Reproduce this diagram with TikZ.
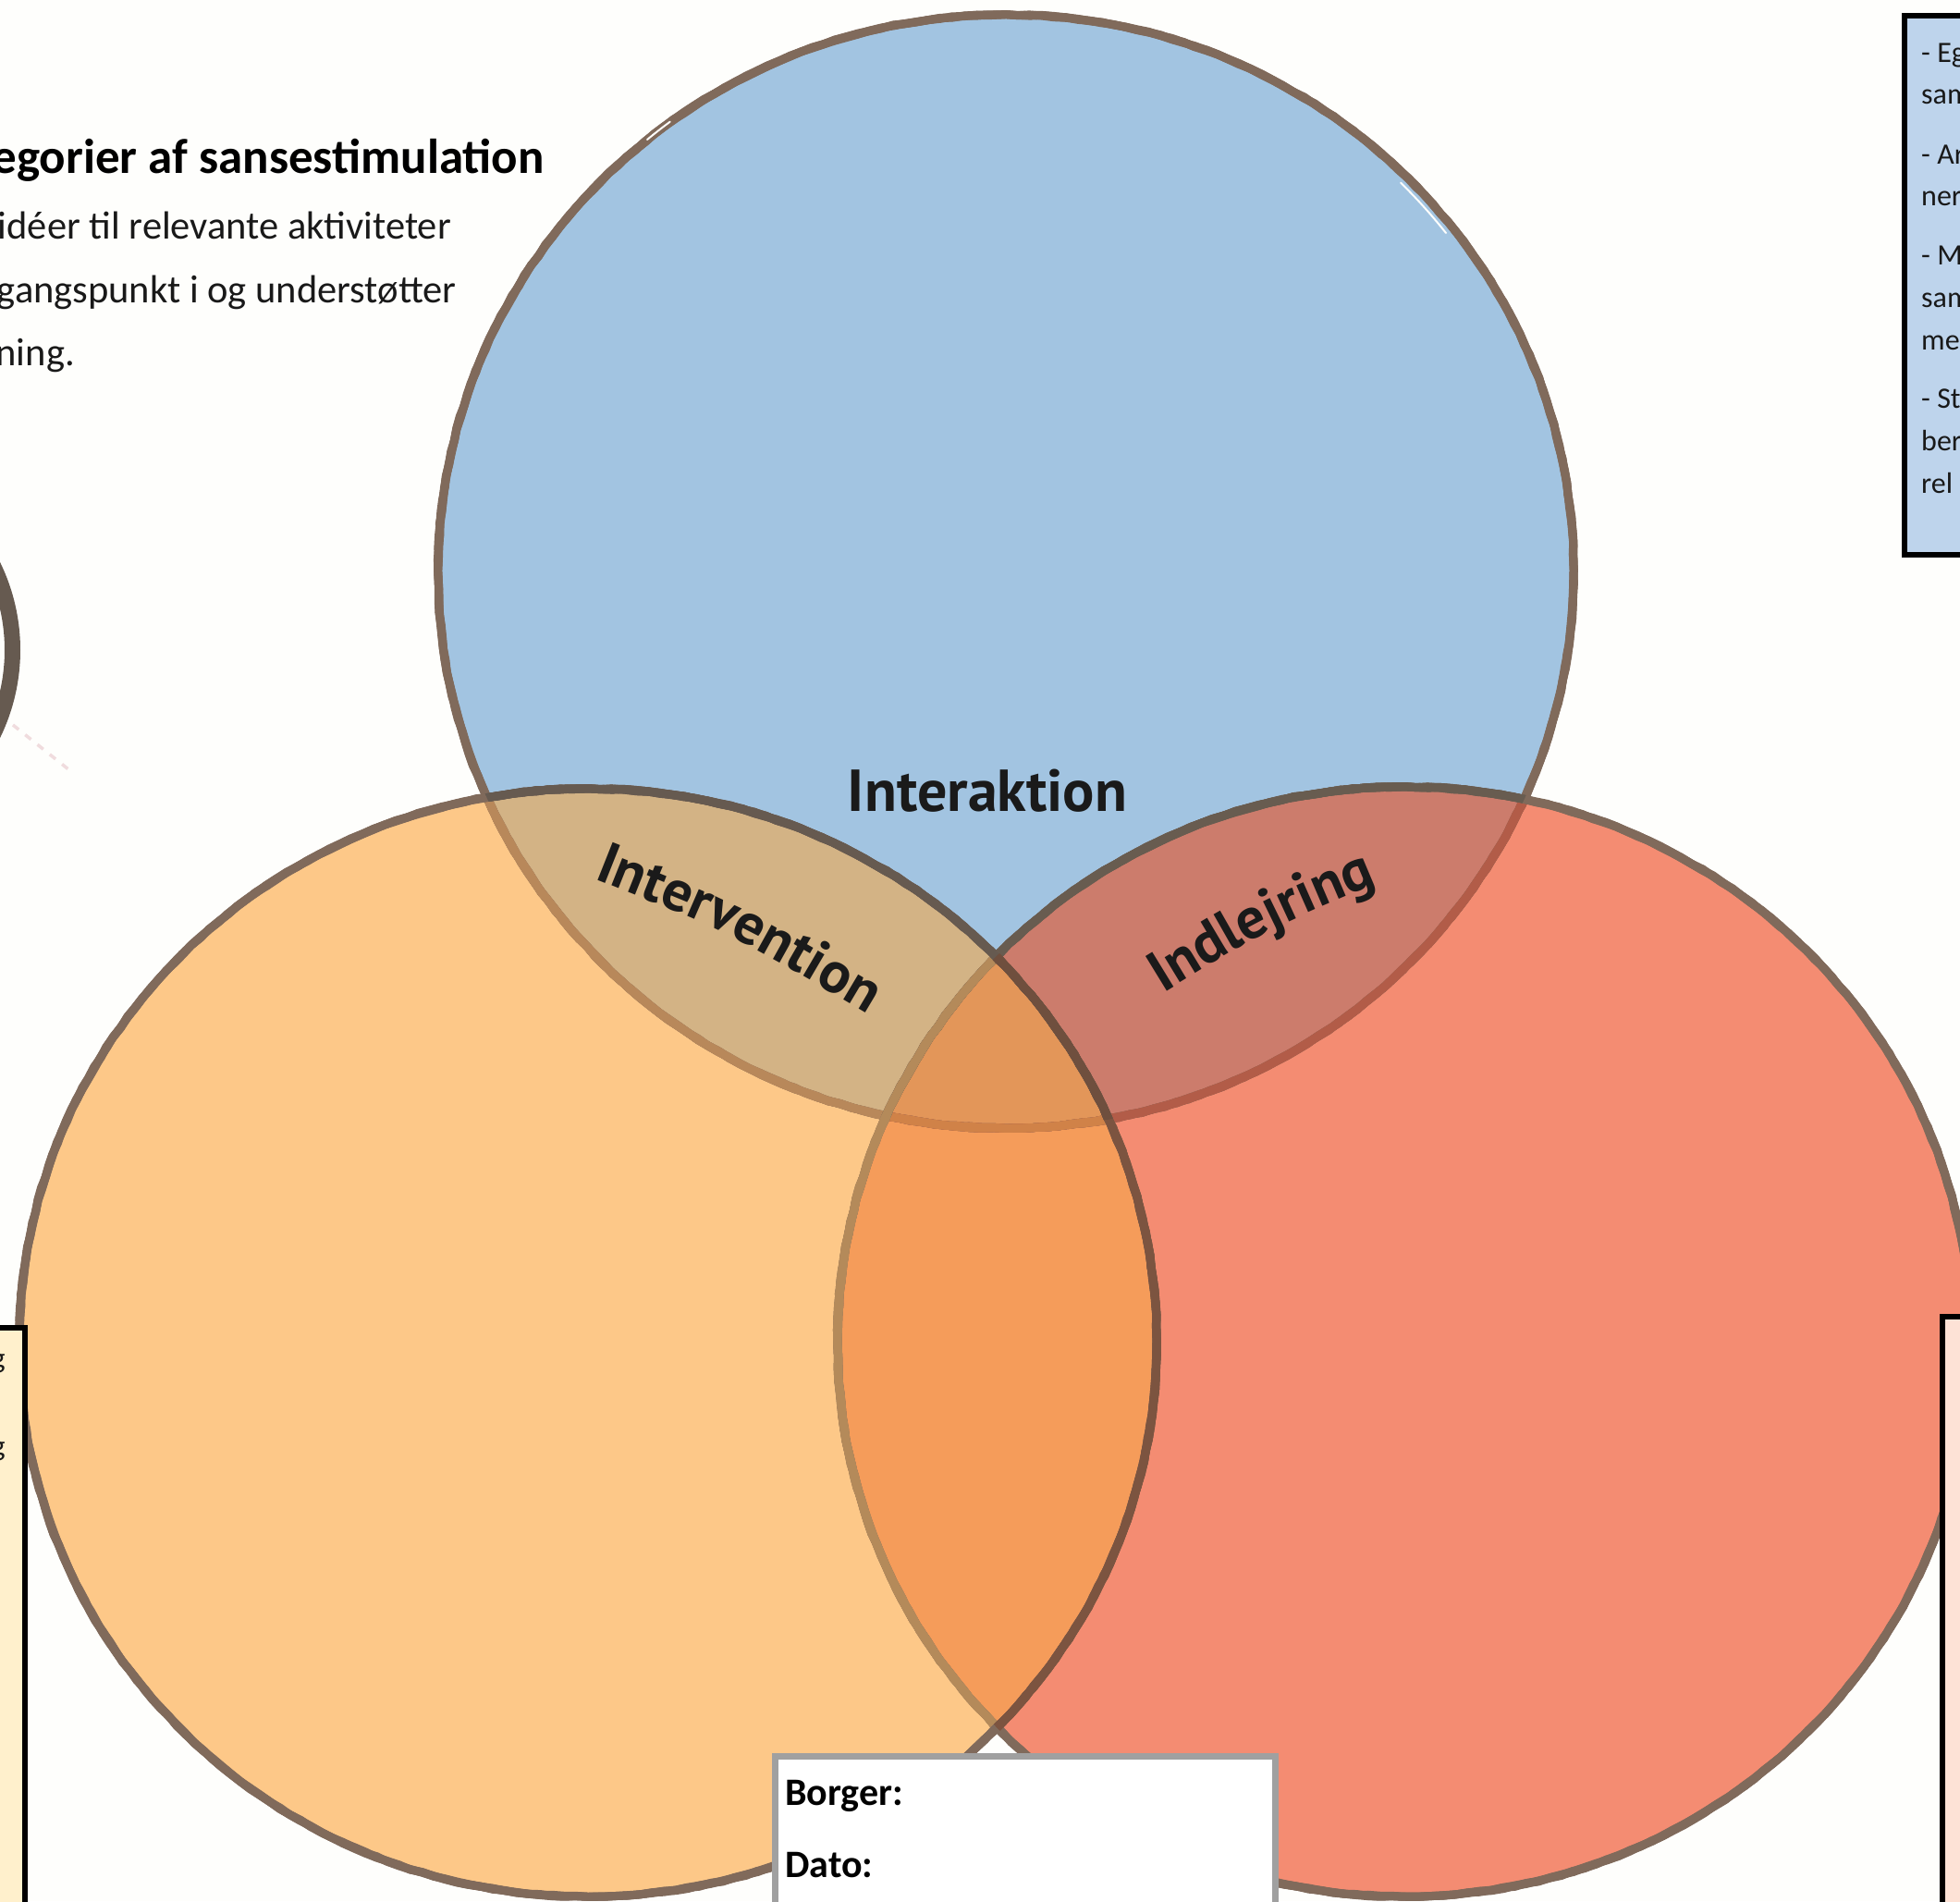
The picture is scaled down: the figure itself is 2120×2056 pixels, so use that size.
\documentclass[tikz,border=0pt]{standalone}
\usepackage{fontspec}
\setmainfont{Carlito}
\newfontfamily\labelfont{PT Sans}
\usetikzlibrary{decorations.text,decorations.pathmorphing}
\definecolor{cB}{HTML}{A2C4E1}\definecolor{cO}{HTML}{FDC888}\definecolor{cR}{HTML}{F48C72}
\definecolor{cBO}{HTML}{D3B385}\definecolor{cBR}{HTML}{CC7C6C}\definecolor{cOR}{HTML}{F59C5A}\definecolor{cBOR}{HTML}{E39659}
\definecolor{st}{HTML}{806A5B}
\definecolor{bgc}{HTML}{FEFEFC}
\definecolor{boxB}{HTML}{BED4EC}\definecolor{boxO}{HTML}{FFF0CC}\definecolor{boxR}{HTML}{FDE2D6}
\definecolor{ink}{HTML}{1A1A1A}
\definecolor{sBO}{HTML}{B8885A}\definecolor{sBR}{HTML}{B25C48}\definecolor{sBOR}{HTML}{D08248}
\definecolor{sRB}{HTML}{685C50}\definecolor{sRO}{HTML}{B48A5A}
\definecolor{sOR}{HTML}{7C5440}\definecolor{sOB}{HTML}{665A50}\definecolor{sOBR}{HTML}{6F4F3E}
\definecolor{ringc}{HTML}{665A50}\definecolor{dashc}{HTML}{F0DCDE}\definecolor{formc}{HTML}{A0A0A0}
\def\pb{(1088,618) ellipse [x radius=614, y radius=602]}
\def\po{(636,1452) ellipse [x radius=615, y radius=599]}
\def\pr{(1519,1451) ellipse [x radius=613, y radius=600]}
\newcommand\roughring[2]{%
  \pgfmathsetseed{11}\draw[ring=#1] #2;
  \pgfmathsetseed{23}\draw[ring=#1] #2;
  \pgfmathsetseed{37}\draw[ring=#1] #2;}
\tikzset{
  ring/.style={draw=#1,line width=9pt,fill=none,decorate,decoration={random steps,segment length=13pt,amplitude=0.7pt}},
  infobox/.style={draw=black,line width=6pt,fill=#1},
  title/.style={anchor=base east,inner sep=0pt,font=\fontsize{53}{53}\selectfont\bfseries},
  bodyt/.style={anchor=base east,inner sep=0pt,font=\fontsize{42.5}{42.5}\selectfont,text=black!90},
  small/.style={anchor=base west,inner sep=0pt,font=\fontsize{32}{32}\selectfont,text=black!90},
  formt/.style={anchor=base west,inner sep=0pt,font=\fontsize{42}{42}\selectfont\bfseries},
  venn/.style={inner sep=0pt,text=ink,font=\fontsize{64}{64}\selectfont\labelfont\bfseries},
  sliver/.style={bgc,line width=2pt,line cap=round},
}
\begin{document}
\begin{tikzpicture}[x=1pt,y=-1pt]
\useasboundingbox (0,0) rectangle (2120,2056);
\clip (0,0) rectangle (2120,2056);
\fill[bgc] (0,0) rectangle (2120,2056);
% partial ring at the left edge
\draw[ringc,line width=17pt] (-194,703) circle [radius=207.5];
\coordinate (d1) at (14,784); \coordinate (d2) at (74,832);
\draw[dashc,line width=3.5pt,dash pattern=on 8pt off 9pt] (d1) -- (d2);
% fills
\fill[cB] \pb; \fill[cR] \pr; \fill[cO] \po;
\begin{scope}\clip \pb; \fill[cBO] \po; \fill[cBR] \pr; \end{scope}
\begin{scope}\clip \po; \fill[cOR] \pr; \end{scope}
\begin{scope}\clip \pb; \clip \po; \fill[cBOR] \pr; \end{scope}
% blue stroke (lowest)
\roughring{st}{\pb}
\begin{scope}\clip \po; \roughring{sBO}{\pb} \end{scope}
\begin{scope}\clip \pr; \roughring{sBR}{\pb} \end{scope}
\begin{scope}\clip \po; \clip \pr; \roughring{sBOR}{\pb} \end{scope}
\draw[sliver] (1564,252) arc [start angle=-38, end angle=-45, x radius=604, y radius=594];
\draw[sliver] (700,151) arc [start angle=-130, end angle=-127, x radius=604, y radius=594];
% red stroke
\roughring{st}{\pr}
\begin{scope}\clip \pb; \roughring{sRB}{\pr} \end{scope}
\begin{scope}\clip \po; \roughring{sRO}{\pr} \end{scope}
% orange stroke (top)
\roughring{st}{\po}
\begin{scope}\clip \pr; \roughring{sOR}{\po} \end{scope}
\begin{scope}\clip \pb; \roughring{sOB}{\po} \end{scope}
\begin{scope}\clip \pb; \clip \pr; \roughring{sOBR}{\po} \end{scope}
% venn labels
\node[venn] (interaktion) at (1068,855) {Interaktion};
\coordinate (iva) at (637,948); \coordinate (ivc) at (793,1010); \coordinate (ivb) at (944,1100);
\path[decorate,decoration={text along path,text align=center,raise=0pt,
  text={|\fontsize{63}{63}\selectfont\labelfont\bfseries\color{ink}|Intervention}}]
  (iva) .. controls (ivc) .. (ivb);
\coordinate (ila) at (1242,1084); \coordinate (ilc) at (1369,1006); \coordinate (ilb) at (1507,948);
\path[decorate,decoration={text along path,text align=center,raise=0pt,
  text={|\fontsize{63}{63}\selectfont\labelfont\bfseries\color{ink}|Indlejring}}]
  (ila) .. controls (ilc) .. (ilb);
% heading text
\node[title] (t0) at (589,187) {egorier af sansestimulation};
\node[bodyt] (t1) at (488,258) {idéer til relevante aktiviteter};
\node[bodyt] (t2) at (494,327) {gangspunkt i og understøtter};
\node[bodyt] (t3) at (81,395) {ning.};
% info boxes
\draw[infobox=boxB] (2060,17) rectangle (2140,600);
\node[small] (b1) at (2078,67) {- Eg};
\node[small] (b2) at (2078,112) {sam};
\node[small] (b3) at (2078,177) {- Ar};
\node[small] (b4) at (2078,222) {ner};
\node[small] (b5) at (2078,286) {- M};
\node[small] (b6) at (2078,332) {sam};
\node[small] (b7) at (2078,378) {me};
\node[small] (b8) at (2078,441) {- St};
\node[small] (b9) at (2078,487) {ber};
\node[small] (b10) at (2078,533) {rel};
\draw[infobox=boxO] (-20,1436) rectangle (27,2080);
\node[small,anchor=base east] (g1) at (6,1479) {g};
\node[small,anchor=base east] (g2) at (6,1574) {g};
\draw[infobox=boxR] (2101,1424) rectangle (2140,2080);
% form box
\draw[formc,line width=7pt,fill=white] (838,1899) rectangle (1379,2080);
\node[formt] (borger) at (849,1952) {Borger:};
\node[formt] (dato) at (849,2030) {Dato:};
\end{tikzpicture}
\end{document}
